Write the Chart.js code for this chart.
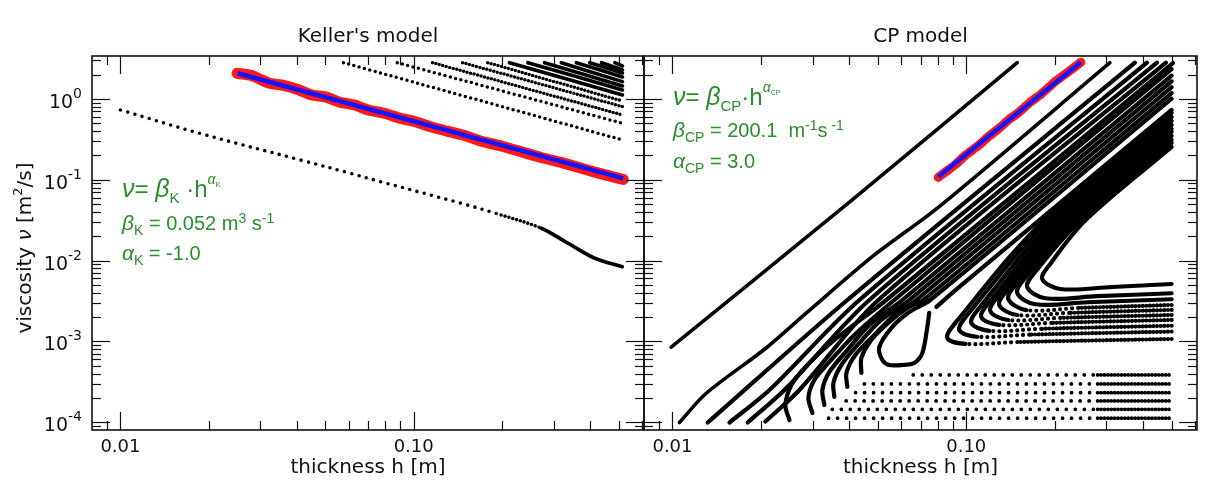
<!DOCTYPE html>
<html><head><meta charset="utf-8">
<script src="https://cdn.jsdelivr.net/npm/chart.js@4.4.1/dist/chart.umd.min.js"></script>
<style>
html,body{margin:0;padding:0;background:#fff;}
#wrap{position:relative;width:1214px;height:495px;background:#fff;}
#wrap canvas{position:absolute;left:0;top:0;}
</style></head><body>
<div id="wrap"><canvas id="cL" width="1214" height="495"></canvas><canvas id="cR" width="1214" height="495"></canvas></div>
<script>
// ---------------- tick / label data ----------------
const xMajorTicks = [0.01, 0.1];
const xTickLabels = ['0.01', '0.10'];
const yMajorExps = [0, -1, -2, -3, -4];
const minorSteps = [2, 3, 4, 5, 6, 7, 8, 9];
const panelTitles = ["Keller's model", 'CP model'];
const xAxisTitle = 'thickness h [m]';

// ---------------- Keller panel data ----------------
const kellerCurveH = [0.0100, 0.0186, 0.0410, 0.0608, 0.0771, 0.1449, 0.1986, 0.2723, 0.3360, 0.4146, 0.5144];
const kellerCurveV = [0.731, 0.376, 0.176, 0.1203, 0.0947, 0.0512, 0.0367, 0.0251, 0.01637, 0.01068, 0.0084];

const kellerFanStartH = [0.0576, 0.0879, 0.1159, 0.1468, 0.1788, 0.2120, 0.2451, 0.2793, 0.3187, 0.3587, 0.3984, 0.4369, 0.4853];
const kellerFanEndV = [0.311, 0.500, 0.634, 0.803, 0.944, 1.121, 1.292, 1.448, 1.637, 1.872, 2.098, 2.286, 2.561];
const kellerFanTopV = 2.81;
const kellerFanEndH = 0.515;

const kellerObsH = [0.025, 0.028, 0.032, 0.036, 0.040, 0.045, 0.050, 0.056, 0.063, 0.070, 0.080, 0.090, 0.100, 0.115, 0.130, 0.150, 0.170, 0.200, 0.230, 0.270, 0.320, 0.370, 0.430, 0.500, 0.518];
const kellerObsV = [2.08, 1.95, 1.58, 1.47, 1.32, 1.12, 1.06, 0.91, 0.84, 0.73, 0.66, 0.575, 0.53, 0.45, 0.40, 0.35, 0.30, 0.26, 0.225, 0.19, 0.163, 0.14, 0.12, 0.104, 0.101];
const kellerFitH = [0.0251, 0.5185];
const kellerFitV = [2.08, 0.104];

// ---------------- CP panel data ----------------
const cpObsH = [0.0803, 0.085, 0.092, 0.100, 0.110, 0.120, 0.130, 0.140, 0.150, 0.165, 0.180, 0.200, 0.220, 0.2455];
const cpObsV = [0.107, 0.125, 0.155, 0.205, 0.265, 0.35, 0.44, 0.56, 0.67, 0.91, 1.15, 1.62, 2.10, 2.85];
const cpFitH = [0.0803, 0.2455];
const cpFitV = [0.109, 2.846];

const cpLineH = [
  [0.0099, 0.0409, 0.1491],
  [0.01056, 0.01303, 0.02084, 0.02851, 0.04786, 0.0809, 0.3083],
  [0.01318, 0.03937, 0.375],
  [0.01563, 0.02138, 0.04326, 0.412],
  [0.01803, 0.02404, 0.0468, 0.4457],
  [0.02072, 0.02704, 0.05019, 0.4782],
  [0.0250, 0.02423, 0.02541, 0.02877, 0.03556, 0.05344, 0.505],
  [0.02994, 0.02902, 0.03041, 0.0342, 0.0416, 0.0569, 0.5],
  [0.03289, 0.03238, 0.0342, 0.03937, 0.0468, 0.06058, 0.5],
  [0.03556, 0.0353, 0.03758, 0.04326, 0.0514, 0.0640, 0.5],
  [0.03937, 0.03908, 0.04192, 0.04865, 0.0569, 0.0676, 0.5],
  [0.04395, 0.04395, 0.04753, 0.0547, 0.063, 0.07142, 0.5],
  [0.0748, 0.0737, 0.0709, 0.0665, 0.06058, 0.0547, 0.0518, 0.05058, 0.056, 0.064, 0.07543, 0.5],
  [0.0791, 0.0947, 0.5]
];
const cpLineV = [
  [8.5e-4, 0.0562, 2.81],
  [9.9e-5, 2.28e-4, 8.28e-4, 2.23e-3, 0.01117, 0.0465, 2.81],
  [9.9e-5, 3.25e-3, 2.81],
  [9.9e-5, 2.5e-4, 3.25e-3, 2.81],
  [9.9e-5, 2.5e-4, 3.25e-3, 2.81],
  [1.02e-4, 2.5e-4, 3.25e-3, 2.81],
  [1.06e-4, 1.63e-4, 2.89e-4, 5.1e-4, 1.04e-3, 3.25e-3, 2.78],
  [1.30e-4, 2.0e-4, 3.33e-4, 5.56e-4, 1.2e-3, 3.25e-3, 2.34],
  [1.63e-4, 2.5e-4, 4.18e-4, 7.8e-4, 1.6e-3, 3.25e-3, 1.94],
  [2.05e-4, 3.05e-4, 5.1e-4, 9.55e-4, 1.84e-3, 3.25e-3, 1.647],
  [2.73e-4, 4.06e-4, 6.8e-4, 1.2e-3, 2.12e-3, 3.25e-3, 1.396],
  [4.06e-4, 6.23e-4, 1.04e-3, 1.74e-3, 2.59e-3, 3.25e-3, 1.183],
  [2.25e-3, 1.51e-3, 7.2e-4, 5.4e-4, 5.1e-4, 5.1e-4, 5.89e-4, 8.5e-4, 1.51e-3, 2.31e-3, 3.25e-3, 1.006],
  [2.67e-3, 4.71e-3, 0.731]
];

const cpHookH = [
  [0.5, 0.3138, 0.2089, 0.1814, 0.1931, 0.2550, 0.5],
  [0.5, 0.2788, 0.1856, 0.1612, 0.1716, 0.2454, 0.5],
  [0.5, 0.2579, 0.1717, 0.1491, 0.1587, 0.2385, 0.5],
  [0.5, 0.2404, 0.1601, 0.1390, 0.1480, 0.2296, 0.5],
  [0.5, 0.2240, 0.1491, 0.1295, 0.1379, 0.2211, 0.5],
  [0.5, 0.2088, 0.1390, 0.1207, 0.1285, 0.2148, 0.5],
  [0.5, 0.1946, 0.1295, 0.1125, 0.1198, 0.2068, 0.5],
  [0.5, 0.1799, 0.1198, 0.1040, 0.1107, 0.1991, 0.5],
  [0.5, 0.1638, 0.1090, 0.0947, 0.1008, 0.1915, 0.5],
  [0.5, 0.1491, 0.0993, 0.0862, 0.0918, 0.1845, 0.5]
];
const cpHookV = [
  [5.13e-3, 4.71e-3, 4.45e-3, 5.92e-3, 9.08e-3, 0.0318, 0.2546],
  [3.94e-3, 3.62e-3, 3.42e-3, 4.71e-3, 7.22e-3, 0.0318, 0.2853],
  [3.32e-3, 3.05e-3, 2.88e-3, 3.97e-3, 6.09e-3, 0.0318, 0.311],
  [2.82e-3, 2.59e-3, 2.44e-3, 3.35e-3, 5.14e-3, 0.0318, 0.3483],
  [2.45e-3, 2.25e-3, 2.12e-3, 2.82e-3, 4.32e-3, 0.0318, 0.3904],
  [2.12e-3, 1.95e-3, 1.84e-3, 2.38e-3, 3.65e-3, 0.0318, 0.4253],
  [1.84e-3, 1.69e-3, 1.60e-3, 2.0e-3, 3.07e-3, 0.0318, 0.4768],
  [1.56e-3, 1.43e-3, 1.35e-3, 1.69e-3, 2.59e-3, 0.0318, 0.5343],
  [1.32e-3, 1.21e-3, 1.14e-3, 1.38e-3, 2.12e-3, 0.0318, 0.5987],
  [1.07e-3, 0.98e-3, 0.93e-3, 1.10e-3, 1.69e-3, 0.0318, 0.6709]
];

const cpRowV = [3.84e-4, 2.97e-4, 2.32e-4, 1.83e-4, 1.44e-4, 1.12e-4];
const cpRowStartH = [0.066, 0.045, 0.042, 0.039, 0.035, 0.034];
const cpRowDenseH = 0.28;
const cpRowEndH = 0.5;

// ---------------- styling helpers ----------------
const FONT = '"DejaVu Sans", "Liberation Sans", sans-serif';
const GFONT = '"Liberation Sans", "DejaVu Sans", sans-serif';
const GREEN = '#2a8f2a';
const INK = '#111';

function pts(H, V) { return H.map((h, i) => ({ x: h, y: V[i] })); }
function ds(H, V, o) {
  return Object.assign({
    data: pts(H, V), borderColor: '#000', borderWidth: 3.2, pointRadius: 0,
    tension: 0.3, fill: false, borderCapStyle: 'round', borderJoinStyle: 'round', order: 2
  }, o || {});
}

function drawRich(ctx, x, y, segs, color, family) {
  ctx.fillStyle = color; ctx.textBaseline = 'alphabetic'; ctx.textAlign = 'left';
  for (const s of segs) {
    ctx.font = (s.it ? 'italic ' : '') + s.s + 'px ' + (family || FONT);
    ctx.fillText(s.t, x, y + (s.dy || 0));
    x += ctx.measureText(s.t).width;
  }
}
function richWidth(ctx, segs, family) {
  let w = 0;
  for (const s of segs) { ctx.font = (s.it ? 'italic ' : '') + s.s + 'px ' + (family || FONT); w += ctx.measureText(s.t).width; }
  return w;
}

const framePlugin = {
  id: 'frame',
  afterDatasetsDraw(chart, args, o) {
    const ctx = chart.ctx, a = chart.chartArea, xs = chart.scales.x, ys = chart.scales.y;
    ctx.save();
    ctx.strokeStyle = INK; ctx.lineWidth = 1.2;
    const seg = (x1, y1, x2, y2) => { ctx.beginPath(); ctx.moveTo(x1, y1); ctx.lineTo(x2, y2); ctx.stroke(); };
    const MAJ = 18, MIN = 9;
    for (let e = -5; e <= 1; e++) {
      const base = Math.pow(10, e);
      [1].concat(minorSteps).forEach(k => {
        const v = k * base, L = k === 1 ? MAJ : MIN;
        if (v > xs.min * 1.0001 && v < xs.max * 0.9999) {
          const px = Math.round(xs.getPixelForValue(v)) + 0.5;
          seg(px, a.bottom, px, a.bottom - L); seg(px, a.top, px, a.top + L);
        }
        if (v > ys.min * 1.0001 && v < ys.max * 0.9999) {
          const py = Math.round(ys.getPixelForValue(v)) + 0.5;
          seg(a.left, py, a.left + L, py); seg(a.right, py, a.right - L, py);
        }
      });
    }
    ctx.lineWidth = 1.6;
    ctx.strokeRect(a.left, a.top, a.right - a.left, a.bottom - a.top);

    ctx.fillStyle = INK; ctx.textBaseline = 'alphabetic'; ctx.textAlign = 'center';
    ctx.font = '18px ' + FONT;
    xMajorTicks.forEach((v, i) => ctx.fillText(xTickLabels[i], xs.getPixelForValue(v), a.bottom + 22));
    ctx.font = '20px ' + FONT;
    const cx = (a.left + a.right) / 2;
    ctx.fillText(xAxisTitle, cx, a.bottom + 43);
    ctx.fillText(o.title, cx, a.top - 14);

    if (o.yLabels) {
      yMajorExps.forEach(e => {
        const py = ys.getPixelForValue(Math.pow(10, e));
        const sup = String(e);
        ctx.font = '14px ' + FONT; const ws = ctx.measureText(sup).width;
        ctx.font = '19px ' + FONT; const wb = ctx.measureText('10').width;
        const right = a.left - 10;
        ctx.textAlign = 'left';
        ctx.fillText('10', right - ws - wb, py + 9);
        ctx.font = '14px ' + FONT;
        ctx.fillText(sup, right - ws, py - 1);
      });
      const yt = [{ t: 'viscosity ', s: 20 }, { t: 'ν', s: 20, it: true }, { t: ' [m', s: 20 }, { t: '2', s: 13, dy: -9 }, { t: '/s]', s: 20 }];
      const w = richWidth(ctx, yt);
      ctx.save(); ctx.translate(31, 248); ctx.rotate(-Math.PI / 2);
      drawRich(ctx, -w / 2, 0, yt, INK);
      ctx.restore();
    }
    (o.green || []).forEach(line => drawRich(ctx, line.x, line.y, line.segs, GREEN, GFONT));
    ctx.restore();
  }
};

function makeChart(id, datasets, pad, frameOpts) {
  return new Chart(document.getElementById(id), {
    type: 'line',
    data: { datasets },
    options: {
      responsive: false, animation: false, devicePixelRatio: 1,
      layout: { padding: pad },
      plugins: { legend: { display: false }, tooltip: { enabled: false }, frame: frameOpts },
      scales: {
        x: { type: 'logarithmic', min: 0.008, max: 0.61, display: false },
        y: { type: 'logarithmic', min: 8e-5, max: 3.4, display: false }
      }
    },
    plugins: [framePlugin]
  });
}

// ---------------- Keller datasets ----------------
const leftSets = [];
leftSets.push(ds(kellerFitH, kellerFitV, { borderColor: '#1414ff', borderWidth: 4.6, tension: 0, borderCapStyle: 'butt', order: 0 }));
leftSets.push(ds(kellerObsH, kellerObsV, { borderColor: '#ff1a1a', borderWidth: 11, tension: 0.2, order: 1 }));
leftSets.push(ds(kellerCurveH, kellerCurveV, {
  borderWidth: 3.6, tension: 0.35,
  segment: { borderDash: c => c.p0.parsed.x < 0.19 ? [0, 7.5] : (c.p0.parsed.x < 0.27 ? [0, 4] : undefined) }
}));
kellerFanStartH.forEach((h, i) => {
  leftSets.push(ds([h, kellerFanEndH], [kellerFanTopV, kellerFanEndV[i]], {
    borderWidth: i < 5 ? 3.5 : 3.6,
    borderDash: i < 2 ? [0, 5.5] : (i < 5 ? [0, 3.6] : [])
  }));
});

// ---------------- CP datasets ----------------
const rightSets = [];
rightSets.push(ds(cpFitH, cpFitV, { borderColor: '#1414ff', borderWidth: 4.4, tension: 0, borderCapStyle: 'butt', order: 0 }));
rightSets.push(ds(cpObsH, cpObsV, { borderColor: '#ff1a1a', borderWidth: 9, tension: 0.2, order: 1 }));
cpLineH.forEach((H, i) => rightSets.push(ds(H, cpLineV[i], { borderWidth: i < 2 ? 3.6 : 4.2, tension: 0.3 })));
cpHookH.forEach((H, i) => rightSets.push(ds(H, cpHookV[i], {
  borderWidth: 4.2, tension: 0.35,
  segment: i >= 3 ? { borderDash: c => c.p0DataIndex === 1 ? [0, 6] : (c.p0DataIndex === 0 ? [0, 3.6] : undefined) } : undefined
})));
cpRowV.forEach((v, i) => rightSets.push(ds([cpRowStartH[i], cpRowDenseH, cpRowEndH], [v, v, v], {
  borderWidth: 3.8, tension: 0,
  segment: { borderDash: c => c.p0DataIndex === 0 ? [0, 9] : [0, 3.4] }
})));

const leftGreen = [
  { x: 122, y: 197, segs: [{ t: 'ν', s: 25, it: true }, { t: '= ', s: 24 }, { t: 'β', s: 25, it: true }, { t: 'K', s: 15, dy: 6 }, { t: ' ·h', s: 24 }, { t: 'α', s: 14, dy: -13, it: true }, { t: 'K', s: 8, dy: -10 }] },
  { x: 122, y: 230, segs: [{ t: 'β', s: 21, it: true }, { t: 'K', s: 14, dy: 5 }, { t: ' = 0.052 m', s: 20 }, { t: '3', s: 14, dy: -7 }, { t: ' s', s: 20 }, { t: '-1', s: 14, dy: -7 }] },
  { x: 122, y: 260, segs: [{ t: 'α', s: 21, it: true }, { t: 'K', s: 14, dy: 5 }, { t: ' = -1.0', s: 20 }] }
];
const rightGreen = [
  { x: 673, y: 105, segs: [{ t: 'ν', s: 25, it: true }, { t: '= ', s: 24 }, { t: 'β', s: 25, it: true }, { t: 'CP', s: 15, dy: 6 }, { t: '·h', s: 24 }, { t: 'α', s: 14, dy: -13, it: true }, { t: 'CP', s: 7, dy: -10 }] },
  { x: 673, y: 137, segs: [{ t: 'β', s: 21, it: true }, { t: 'CP', s: 14, dy: 5 }, { t: ' = 200.1  m', s: 20 }, { t: '-1', s: 14, dy: -7 }, { t: 's', s: 20 }, { t: ' -1', s: 14, dy: -7 }] },
  { x: 673, y: 168, segs: [{ t: 'α', s: 21, it: true }, { t: 'CP', s: 14, dy: 5 }, { t: ' = 3.0', s: 20 }] }
];

makeChart('cL', leftSets, { left: 92, right: 1214 - 644, top: 56, bottom: 495 - 430 },
  { title: panelTitles[0], yLabels: true, green: leftGreen });
makeChart('cR', rightSets, { left: 644, right: 1214 - 1197, top: 56, bottom: 495 - 430 },
  { title: panelTitles[1], yLabels: false, green: rightGreen });
</script>
</body></html>
